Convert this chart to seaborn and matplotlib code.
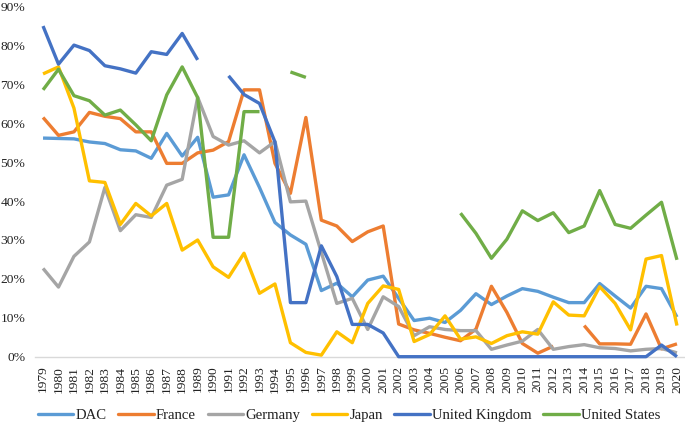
import numpy as np
import pandas as pd
import matplotlib
matplotlib.use("Agg")
import matplotlib.pyplot as plt
from matplotlib.lines import Line2D
from matplotlib.ticker import FuncFormatter
import seaborn as sns

nan = np.nan
years = list(range(1979, 2021))

dac = [56.2, 56.1, 56.0, 55.2, 54.8, 53.2, 52.9, 51.0, 57.4, 51.6, 56.4, 41.0, 41.6, 51.9,
       43.5, 34.5, 31.3, 28.9, 17.0, 18.9, 15.4, 19.7, 20.7, 15.0, 9.3, 9.9, 8.8, 11.9,
       16.2, 13.4, 15.6, 17.5, 16.8, 15.3, 13.9, 13.9, 18.8, 15.6, 12.5, 18.1, 17.5, 10.2]
france = [61.5, 56.9, 57.8, 62.8, 61.8, 61.2, 57.8, 57.8, 49.7, 49.7, 52.4, 53.1, 55.3, 68.6,
          68.6, 49.7, 42.0, 61.5, 35.1, 33.6, 29.6, 32.1, 33.6, 8.4, 6.9, 6.0, 5.0, 4.1,
          7.1, 18.1, 11.4, 3.4, 0.9, 2.7, nan, 8.0, 3.3, 3.3, 3.2, 11.0, 2.0, 3.3]
germany = [22.7, 17.9, 25.8, 29.5, 43.5, 32.4, 36.5, 35.8, 44.1, 45.6, 66.7, 56.6, 54.4, 55.5,
           52.4, 55.3, 39.8, 40.0, 26.8, 13.7, 15.0, 7.0, 15.4, 12.9, 5.4, 7.7, 7.0, 6.7,
           6.7, 1.9, 3.0, 4.0, 7.0, 1.9, 2.6, 3.1, 2.3, 2.1, 1.5, 1.9, 2.1, 1.0]
japan = [72.7, 74.5, 63.9, 45.2, 44.8, 34.0, 39.4, 36.2, 39.4, 27.4, 30.0, 23.1, 20.4, 26.6,
         16.3, 18.7, 3.6, 1.1, 0.4, 6.4, 3.6, 13.7, 18.2, 17.3, 3.9, 5.7, 10.5, 4.5,
         5.1, 3.4, 5.4, 6.4, 5.8, 14.1, 10.7, 10.5, 18.0, 13.7, 6.9, 25.1, 26.0, 8.0]
uk = [85.0, 75.2, 80.1, 78.7, 74.8, 74.0, 72.9, 78.4, 77.7, 83.1, 76.3, nan, 72.2, 67.4,
      65.1, 55.2, 13.9, 13.9, 28.5, 20.6, 8.3, 8.3, 6.1, 0.0, 0.0, 0.0, 0.0, 0.0,
      0.0, 0.0, 0.0, 0.0, 0.0, 0.0, 0.0, 0.0, 0.0, 0.0, 0.0, 0.0, 3.0, 0.0]
us = [68.6, 73.9, 67.1, 65.8, 62.1, 63.4, 59.6, 55.5, 67.3, 74.5, 66.6, 30.7, 30.7, 63.0,
      63.0, nan, 73.2, 71.8, nan, nan, nan, nan, nan, nan, nan, nan, nan, 36.9,
      31.7, 25.3, 30.2, 37.5, 35.0, 37.0, 31.9, 33.6, 42.7, 34.0, 33.0, 36.4, 39.7, 24.9]

series_names = ["DAC", "France", "Germany", "Japan", "United Kingdom", "United States"]
colors = ["#5B9BD5", "#ED7D31", "#A5A5A5", "#FFC000", "#4472C4", "#70AD47"]
y_ticks = [0, 0.1, 0.2, 0.3, 0.4, 0.5, 0.6, 0.7, 0.8, 0.9]

rows = []
for name, vals in zip(series_names, [dac, france, germany, japan, uk, us]):
    seg = 0
    gap = True
    for yr, v in zip(years, vals):
        if np.isnan(v):
            gap = True
            continue
        if gap:
            seg += 1
            gap = False
        rows.append({"year": yr, "value": v / 100.0, "series": name, "seg": f"{name}-{seg}"})
df = pd.DataFrame(rows)

sns.set_theme(style="white")
plt.rcParams["font.family"] = ["Liberation Serif", "DejaVu Serif"]

fig = plt.figure(figsize=(6.85, 4.24), dpi=100)
W, H = 685.0, 424.0
ax = fig.add_axes([35.3 / W, (H - 356.7) / H, 649.4 / W, 350.1 / H])

sns.lineplot(data=df, x="year", y="value", hue="series", hue_order=series_names,
             palette=colors, units="seg", estimator=None, linewidth=2.4,
             ax=ax, legend=False, sort=True)
for ln in ax.lines:
    ln.set_clip_on(False)
    ln.set_solid_joinstyle("round")
    ln.set_solid_capstyle("butt")

ax.set_xlim(1978.5, 2020.5)
ax.set_ylim(0, 0.9)
ax.set_xticks(years)
ax.set_xticklabels([str(y) for y in years], rotation=90)
ax.set_yticks(y_ticks)
ax.yaxis.set_major_formatter(FuncFormatter(lambda v, p: f"{v*100:.0f}%"))
ax.set_xlabel("")
ax.set_ylabel("")
ax.tick_params(axis="both", length=0, labelsize=9.7, colors="#222222")
ax.tick_params(axis="y", pad=7.1)
ax.tick_params(axis="x", pad=6.5)
for s in ["top", "right", "left"]:
    ax.spines[s].set_visible(False)
ax.spines["bottom"].set_color("#D9D9D9")
ax.spines["bottom"].set_linewidth(1.0)
ax.spines["bottom"].set_zorder(0)
ax.grid(False)

handles = [Line2D([0], [0], color=c, linewidth=2.4) for c in colors]
fig.legend(handles, series_names, loc="center", bbox_to_anchor=(0.5095, 9.0 / H),
           ncol=6, frameon=False, fontsize=10.6, handlelength=2.4,
           handletextpad=0.15, columnspacing=0.8, labelcolor="#222222",
           borderaxespad=0, borderpad=0)

fig.savefig("out.png", dpi=100)
